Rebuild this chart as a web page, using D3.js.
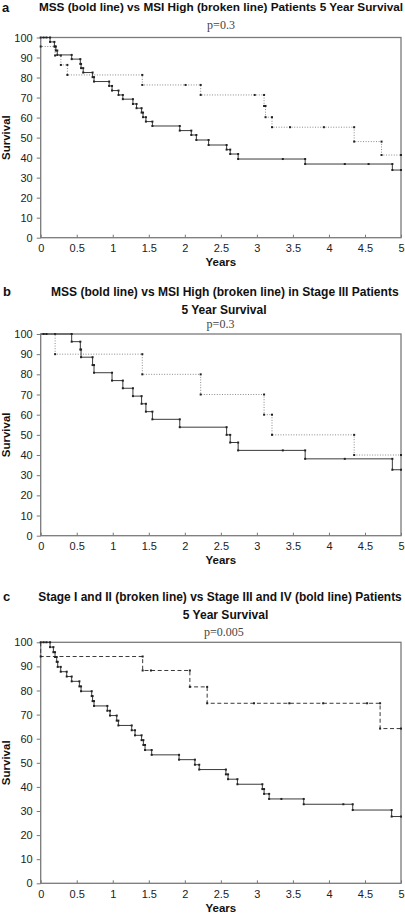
<!DOCTYPE html>
<html><head><meta charset="utf-8">
<script src="https://cdn.jsdelivr.net/npm/d3@7"></script>
<style>
body{margin:0;background:#fff;}
svg{display:block;}
</style></head><body>
<svg id="chart" width="405" height="918"></svg>
<script>
// ---------- data ----------
const yearTicks = [0, 0.5, 1, 1.5, 2, 2.5, 3, 3.5, 4, 4.5, 5];
const yearTickLabels = ["0", "0.5", "1", "1.5", "2", "2.5", "3", "3.5", "4", "4.5", "5"];
const survivalTicks = [0, 10, 20, 30, 40, 50, 60, 70, 80, 90, 100];

// Panel a: MSS (bold) vs MSI High (broken)
const aMssTimes = [0.13, 0.19, 0.21, 0.23, 0.43, 0.55, 0.56, 0.59, 0.72, 0.74, 0.95, 0.99, 1.08, 1.14, 1.28, 1.33, 1.40, 1.42, 1.46, 1.55, 1.93, 2.09, 2.16, 2.33, 2.58, 2.63, 2.74, 3.67, 4.88];
const aMssSurv  = [97.8, 95.5, 93.5, 91.3, 89.2, 86.8, 84.7, 82.5, 80.2, 78.0, 75.8, 73.5, 71.3, 69.2, 66.8, 64.7, 62.5, 60.2, 58.0, 55.8, 53.5, 51.3, 48.8, 46.3, 44.0, 41.8, 39.3, 36.8, 33.8];
const aMssCensor = [0.04, 0.08, 3.36, 4.22, 4.55, 5.0];
const aMsiTimes = [0.0, 0.20, 0.28, 0.37, 1.41, 2.22, 3.10, 3.12, 3.21, 4.35, 4.73];
const aMsiSurv  = [95.5, 91.0, 86.3, 81.3, 76.3, 71.3, 65.8, 60.2, 55.2, 48.0, 41.3];
const aMsiCensor = [2.01, 2.97, 3.46, 3.93, 5.0];

// Panel b: Stage III patients
const bMssTimes = [0.43, 0.55, 0.56, 0.72, 0.74, 0.99, 1.14, 1.28, 1.40, 1.46, 1.55, 1.93, 2.58, 2.63, 2.74, 3.67, 4.88];
const bMssSurv  = [96.2, 92.3, 88.5, 84.6, 80.8, 76.9, 73.1, 69.2, 65.4, 61.5, 57.7, 53.8, 50.0, 46.2, 42.3, 38.1, 32.7];
const bMssCensor = [0.04, 0.08, 3.36, 4.22, 5.0];
const bMsiTimes = [0.20, 1.41, 2.22, 3.10, 3.21, 4.35];
const bMsiSurv  = [90, 80, 70, 60, 50, 40];
const bMsiCensor = [5.0];

// Panel c: Stage I/II (broken) vs Stage III/IV (bold)
const cEarlyTimes = [0.0, 1.415, 2.07, 2.31, 4.71];
const cEarlySurv  = [94.1, 88.3, 81.5, 74.7, 64.2];
const cEarlyCensor = [1.53, 2.96, 3.45, 3.92, 4.53, 5.0];
const cLateTimes = [0.13, 0.176, 0.199, 0.222, 0.236, 0.278, 0.361, 0.43, 0.537, 0.56, 0.708, 0.72, 0.74, 0.925, 0.962, 1.055, 1.078, 1.263, 1.309, 1.40, 1.425, 1.448, 1.54, 1.92, 2.14, 2.20, 2.57, 2.60, 2.73, 3.076, 3.10, 3.17, 3.65, 4.33, 4.87];
const cLateSurv  = [98.0, 95.9, 93.9, 91.9, 89.8, 87.8, 85.8, 83.8, 81.7, 79.7, 77.7, 75.6, 73.6, 71.6, 69.6, 67.5, 65.5, 63.5, 61.4, 59.4, 57.4, 55.3, 53.3, 51.3, 49.2, 47.2, 45.2, 43.2, 41.1, 39.1, 37.1, 35.0, 32.8, 30.4, 27.7];
const cLateCensor = [0.04, 0.08, 3.34, 4.2, 5.0];

const panelLetters = ["a", "b", "c"];
const titleA = ["MSS (bold line) vs MSI High (broken line) Patients 5 Year Survival"];
const titleB = ["MSS (bold line) vs MSI High (broken line) in Stage III Patients", "5 Year Survival"];
const titleC = ["Stage I and II (broken line) vs Stage III and IV (bold line) Patients", "5 Year Survival"];
const pValues = ["p=0.3", "p=0.3", "p=0.005"];
const xTitle = "Years";
const yTitle = "Survival";

// ---------- drawing ----------
const svg = d3.select("#chart");
const SANS = "'Liberation Sans', Arial, Helvetica, sans-serif";
const SERIF = "'Liberation Serif', 'Times New Roman', serif";
const L = 40.7, R = 401;

function fitText(sel, width) {
  const base = parseFloat(sel.attr("font-size"));
  const w = sel.node().getComputedTextLength();
  sel.attr("font-size", (base * width / w).toFixed(2));
}

const styles = {
  solid: {stroke: "#3a3a3a", width: 1, dash: null},
  dotted: {stroke: "#8a8a8a", width: 1, dash: "1,1.6"},
  dashed: {stroke: "#3a3a3a", width: 1, dash: "4,2.6"}
};

function drawPanel(cfg) {
  const g = svg.append("g");
  const x = d3.scaleLinear().domain([0, 5]).range([L, R]);
  const y = d3.scaleLinear().domain([0, 100]).range([cfg.bottom, cfg.top]);

  // letter
  g.append("text").attr("x", cfg.letterX).attr("y", cfg.letterY)
    .attr("font-family", SANS).attr("font-weight", "bold").attr("font-size", 13)
    .attr("fill", "#111").text(cfg.letter);

  // titles
  cfg.titles.forEach((t, i) => {
    const tt = g.append("text").attr("x", cfg.titleCx[i]).attr("y", cfg.titleY[i])
      .attr("text-anchor", "middle").attr("font-family", SANS).attr("font-weight", "bold")
      .attr("font-size", 11).attr("fill", "#111").text(t);
    fitText(tt, cfg.titleW[i]);
  });
  g.append("text").attr("x", cfg.pCx).attr("y", cfg.pY).attr("text-anchor", "middle")
    .attr("font-family", SERIF).attr("font-size", 12).attr("fill", "#444").text(cfg.p);

  // axes
  const ya = d3.axisLeft(y).tickValues(survivalTicks).tickSize(4).tickPadding(4).tickFormat(d3.format("d"));
  const yg = g.append("g").attr("transform", `translate(${L},0)`).call(ya);
  const xa = d3.axisBottom(x).tickValues(yearTicks).tickSize(-3).tickPadding(7)
    .tickFormat((d, i) => yearTickLabels[i]);
  const xg = g.append("g").attr("transform", `translate(0,${cfg.bottom})`).call(xa);
  [yg, xg].forEach(a => {
    a.select(".domain").remove();
    a.selectAll(".tick line").attr("stroke", "#777").attr("stroke-width", 1);
    a.selectAll(".tick text").attr("font-family", SANS).attr("font-size", 11).attr("fill", "#222");
  });
  // frame
  g.append("rect").attr("x", L).attr("y", cfg.top).attr("width", R - L).attr("height", cfg.bottom - cfg.top)
    .attr("fill", "none").attr("stroke", "#7a7a7a").attr("stroke-width", 1.3);

  // axis titles
  g.append("text").attr("x", (L + R) / 2).attr("y", cfg.bottom + 28.5).attr("text-anchor", "middle")
    .attr("font-family", SANS).attr("font-weight", "bold").attr("font-size", 11.5).attr("fill", "#111").text(xTitle);
  g.append("text").attr("transform", `translate(9.5,${(cfg.top + cfg.bottom) / 2}) rotate(-90)`)
    .attr("text-anchor", "middle").attr("font-family", SANS).attr("font-weight", "bold")
    .attr("font-size", 11.5).attr("fill", "#111").text(yTitle);

  // curves
  const line = d3.line().x(d => x(d[0])).y(d => y(d[1]));
  cfg.series.forEach(s => {
    const st = styles[s.style];
    const pts = [[0, 100]];
    let cur = 100;
    s.times.forEach((t, i) => { pts.push([t, cur]); cur = s.surv[i]; pts.push([t, cur]); });
    pts.push([5, cur]);
    g.append("path").attr("d", line(pts)).attr("fill", "none").attr("stroke", st.stroke)
      .attr("stroke-width", st.width).attr("stroke-dasharray", st.dash);
    const levelAt = t => { let v = 100; s.times.forEach((tt, i) => { if (tt <= t) v = s.surv[i]; }); return v; };
    const marks = pts.slice(1, -1).concat(s.censor.map(t => [t, levelAt(t)]));
    g.selectAll(null).data(marks).enter().append("rect")
      .attr("x", d => x(d[0]) - 1).attr("y", d => y(d[1]) - 1)
      .attr("width", 2).attr("height", 2).attr("fill", "#222");
  });
}

drawPanel({
  letter: panelLetters[0], letterX: 2, letterY: 12,
  titles: titleA, titleCx: [221], titleY: [11], titleW: [364],
  p: pValues[0], pCx: 221, pY: 28.5,
  top: 37.5, bottom: 237.7,
  series: [
    {times: aMsiTimes, surv: aMsiSurv, censor: aMsiCensor, style: "dotted"},
    {times: aMssTimes, surv: aMssSurv, censor: aMssCensor, style: "solid"}
  ]
});
drawPanel({
  letter: panelLetters[1], letterX: 3, letterY: 296,
  titles: titleB, titleCx: [224.8, 224], titleY: [296, 314], titleW: [348, 85],
  p: pValues[1], pCx: 220.5, pY: 327.5,
  top: 334, bottom: 535.7,
  series: [
    {times: bMsiTimes, surv: bMsiSurv, censor: bMsiCensor, style: "dotted"},
    {times: bMssTimes, surv: bMssSurv, censor: bMssCensor, style: "solid"}
  ]
});
drawPanel({
  letter: panelLetters[2], letterX: 3, letterY: 601,
  titles: titleC, titleCx: [220, 225.5], titleY: [601, 619], titleW: [364, 85.6],
  p: pValues[2], pCx: 223.8, pY: 636,
  top: 642.3, bottom: 883.3,
  series: [
    {times: cEarlyTimes, surv: cEarlySurv, censor: cEarlyCensor, style: "dashed"},
    {times: cLateTimes, surv: cLateSurv, censor: cLateCensor, style: "solid"}
  ]
});
</script>
</body></html>
